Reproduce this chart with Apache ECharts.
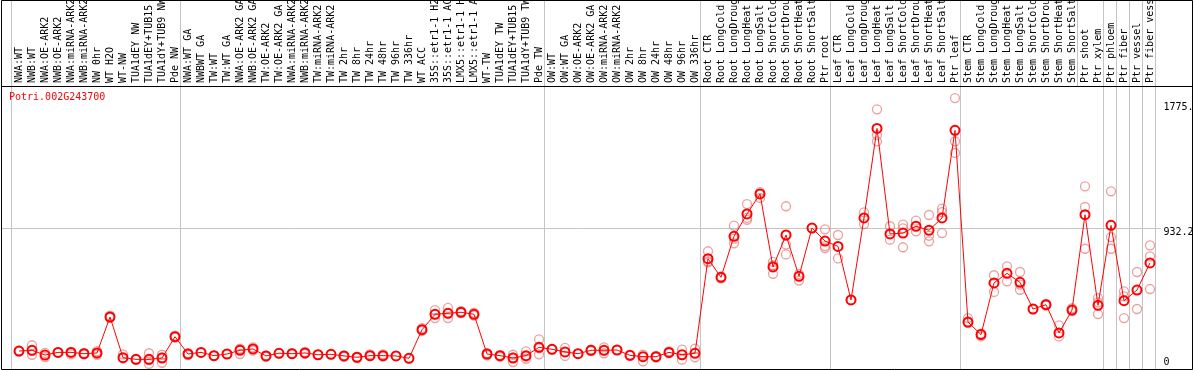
<!DOCTYPE html>
<html>
<head>
<meta charset="utf-8">
<script src="https://cdn.jsdelivr.net/npm/echarts@6/dist/echarts.min.js"></script>
<style>
html, body { margin: 0; padding: 0; background: #fff; }
#box { width: 1194px; height: 370px; }
</style>
</head>
<body>
<div id="box"></div>
<script>
var geneName = 'Potri.002G243700';

var categories = [
    'NWA:WT', 'NWB:WT', 'NWA:OE-ARK2', 'NWB:OE-ARK2', 'NWA:miRNA-ARK2', 'NWB:miRNA-ARK2', 'NW 0hr',
    'WT H2O', 'WT-NW', 'TUA1dEY NW', 'TUA1dEY+TUB15 NW', 'TUA1dY+TUB9 NW', 'Pde NW',
    'NWA:WT GA', 'NWBWT GA', 'TW:WT', 'TW:WT GA', 'NWA:OE-ARK2 GA', 'NWB:OE-ARK2 GA', 'TW:OE-ARK2',
    'TW:OE-ARK2 GA', 'NWA:miRNA-ARK2', 'NWB:miRNA-ARK2', 'TW:miRNA-ARK2', 'TW:miRNA-ARK2',
    'TW 2hr', 'TW 8hr', 'TW 24hr', 'TW 48hr', 'TW 96hr', 'TW 336hr', 'WT ACC',
    '35S::etr1-1 H2O', '35S::etr1-1 ACC', 'LMX5::etr1-1 H2O', 'LMX5::etr1-1 ACC',
    'WT-TW', 'TUA1dEY TW', 'TUA1dEY+TUB15 TW', 'TUA1dY+TUB9 TW', 'Pde TW',
    'OW:WT', 'OW:WT GA', 'OW:OE-ARK2', 'OW:OE-ARK2 GA', 'OW:miRNA-ARK2', 'OW:miRNA-ARK2',
    'OW 2hr', 'OW 8hr', 'OW 24hr', 'OW 48hr', 'OW 96hr', 'OW 336hr',
    'Root CTR', 'Root LongCold', 'Root LongDrought', 'Root LongHeat', 'Root LongSalt',
    'Root ShortCold', 'Root ShortDrought', 'Root ShortHeat', 'Root ShortSalt', 'Ptr root',
    'Leaf CTR', 'Leaf LongCold', 'Leaf LongDrought', 'Leaf LongHeat', 'Leaf LongSalt',
    'Leaf ShortCold', 'Leaf ShortDrought', 'Leaf ShortHeat', 'Leaf ShortSalt', 'Ptr leaf',
    'Stem CTR', 'Stem LongCold', 'Stem LongDrought', 'Stem LongHeat', 'Stem LongSalt',
    'Stem ShortCold', 'Stem ShortDrought', 'Stem ShortHeat', 'Stem ShortSalt', 'Ptr shoot',
    'Ptr xylem', 'Ptr phloem', 'Ptr fiber', 'Ptr vessel', 'Ptr fiber vessel'
];

// mean expression per sample
var means = [
    101, 106, 74, 92, 92, 83, 88, 331, 56, 45, 45, 54, 198,
    81, 92, 70, 81, 106, 115, 68, 86, 83, 88, 76, 79, 68, 59, 70, 70, 68, 52, 245,
    349, 356, 363, 349, 81, 70, 54, 70, 126,
    113, 95, 83, 106, 106, 108, 72, 63, 63, 92, 76, 86,
    725, 599, 876, 1027, 1162, 669, 885, 606, 932, 844,
    808, 446, 1000, 1605, 892, 898, 944, 917, 1000, 1592,
    297, 212, 561, 626, 565, 385, 414, 223, 378, 1022,
    410, 950, 441, 513, 696
];

// individual replicates per sample
var replicates = [
    [98, 104], [140, 76, 104], [88, 60], [92, 90], [78, 96], [88, 78], [100, 76, 86],
    [340, 325], [79, 52], [45, 42], [86, 14, 40], [76, 22, 58], [205, 192],
    [86, 74], [92], [72, 66], [81], [117, 81, 112], [126, 104], [72, 62], [86], [80, 86],
    [95, 82], [76], [79], [72, 62], [62, 54], [78, 66], [79, 63], [68], [52], [255, 238],
    [378, 324, 349], [392, 324, 356], [370, 358], [360, 340], [86, 72], [74, 62],
    [76, 27, 58], [99, 49, 64], [180, 79, 120],
    [113], [122, 68], [83], [110, 100], [126, 86, 106], [108], [74, 68], [76, 32],
    [68, 56], [99, 86], [110, 43], [117, 59],
    [775, 707, 700], [605, 592], [948, 829, 860], [1094, 988, 1000], [1175, 1135],
    [703, 623, 680], [1079, 754, 820], [577, 620], [932], [923, 797, 810],
    [885, 727], [446], [1038, 959], [1734, 1518, 1560], [944, 853], [955, 802, 930],
    [982, 910], [1020, 842, 880], [1063, 898, 1040], [1810, 1518, 1439],
    [324, 290], [218, 200], [613, 500], [673, 572], [635, 515, 550], [385], [420, 408],
    [275, 200], [390, 370], [1214, 1074, 792],
    [459, 351, 430], [1180, 871, 792], [504, 324, 470], [635, 385], [815, 741, 520]
];

// where the study groups start (category index)
var groupBounds = [0, 13, 41, 53, 63, 73, 84, 85, 86, 87, 88];
var labelBounds = [0, 13, 41, 53, 63, 73, 82, 84, 85, 86, 87, 88];
var yLabelsTop = [932.2, 1775.4];
var yLabelsBottom = [0];
var gridValue = 932.2;

var repPoints = [];
replicates.forEach(function (list, i) {
    list.forEach(function (v) { repPoints.push([i, v]); });
});

var mono = 'DejaVu Sans Mono';
var grey = '#c4c4c4';
var yMin = -20.3, yMax = 1884.7;

function sepAxis(grid, bounds) {
    return {
        type: 'value', gridIndex: grid, min: 0, max: 88,
        axisLine: { show: false }, axisLabel: { show: false },
        axisTick: { show: false, customValues: bounds },
        splitLine: { show: true, lineStyle: { color: grey, width: 1 } }
    };
}

function plainLabel(v) { return String(v); }

var myChart = echarts.init(document.getElementById('box'));

var option = {
    animation: false,
    title: {
        text: geneName,
        left: 9, top: 92, padding: 0,
        textStyle: { fontFamily: mono, fontSize: 10, fontWeight: 'normal', color: '#ff0000' }
    },
    grid: [
        { left: 12.5, right: 37.5, top: 0, height: 86, outerBoundsMode: 'none' },
        { left: 12.5, right: 37.5, top: 87, bottom: 1, outerBoundsMode: 'none' },
        { left: 11, right: 39, top: 0, height: 86, outerBoundsMode: 'none' },
        { left: 11, right: 39, top: 87, bottom: 1, outerBoundsMode: 'none' },
        // wider band for the horizontal reference line
        { left: 2, right: 33, top: 87, bottom: 1, outerBoundsMode: 'none' }
    ],
    xAxis: [
        {
            type: 'category', gridIndex: 0, data: categories, position: 'bottom',
            axisLine: { show: false }, axisTick: { show: false },
            axisLabel: { inside: true, rotate: 90, interval: 0, margin: 3,
                fontFamily: mono, fontSize: 10, color: '#000' }
        },
        {
            type: 'category', gridIndex: 1, data: categories,
            axisLine: { show: false }, axisTick: { show: false }, axisLabel: { show: false }
        },
        sepAxis(2, labelBounds),
        sepAxis(3, groupBounds),
        { type: 'value', gridIndex: 4, show: false }
    ],
    yAxis: [
        { type: 'value', gridIndex: 0, show: false },
        {
            type: 'value', gridIndex: 1, position: 'right', min: yMin, max: yMax,
            axisLine: { show: false }, axisTick: { show: false }, splitLine: { show: false },
            axisLabel: {
                customValues: yLabelsTop, margin: 7, verticalAlign: 'top', lineHeight: 8,
                formatter: plainLabel, fontFamily: mono, fontSize: 10, color: '#000'
            }
        },
        { type: 'value', gridIndex: 2, show: false },
        { type: 'value', gridIndex: 3, show: false },
        {
            type: 'value', gridIndex: 1, position: 'right', min: yMin, max: yMax,
            axisLine: { show: false }, axisTick: { show: false }, splitLine: { show: false },
            axisLabel: {
                customValues: yLabelsBottom, margin: 7, verticalAlign: 'bottom', lineHeight: 8,
                formatter: plainLabel, fontFamily: mono, fontSize: 10, color: '#000'
            }
        },
        {
            type: 'value', gridIndex: 4, min: yMin, max: yMax,
            axisLine: { show: false }, axisLabel: { show: false },
            axisTick: { show: false, customValues: [gridValue] },
            splitLine: { show: true, lineStyle: { color: grey, width: 1 } }
        }
    ],
    series: [
        {
            type: 'scatter', xAxisIndex: 1, yAxisIndex: 1,
            data: repPoints, symbol: 'circle', symbolSize: 9, z: 2,
            itemStyle: { color: 'rgba(0,0,0,0)', borderColor: 'rgba(225,105,105,0.8)', borderWidth: 1.3 }
        },
        {
            type: 'line', xAxisIndex: 1, yAxisIndex: 1,
            data: means, symbol: 'circle', symbolSize: 9, showAllSymbol: true, z: 3,
            lineStyle: { color: '#ff0000', width: 1 },
            itemStyle: { color: 'rgba(0,0,0,0)', borderColor: '#ff0000', borderWidth: 2 }
        }
    ],
    graphic: [
        { type: 'rect', z: 100, silent: true, shape: { x: 1193, y: 0, width: 2, height: 370 },
          style: { fill: '#fff' } },
        { type: 'rect', z: 101, silent: true, shape: { x: 1.5, y: 0.5, width: 1191, height: 369 },
          style: { fill: null, stroke: '#000', lineWidth: 1 } },
        { type: 'line', z: 101, silent: true, shape: { x1: 1, y1: 86.5, x2: 1193, y2: 86.5 },
          style: { stroke: '#000', lineWidth: 1 } }
    ]
};

myChart.setOption(option);
</script>
</body>
</html>
